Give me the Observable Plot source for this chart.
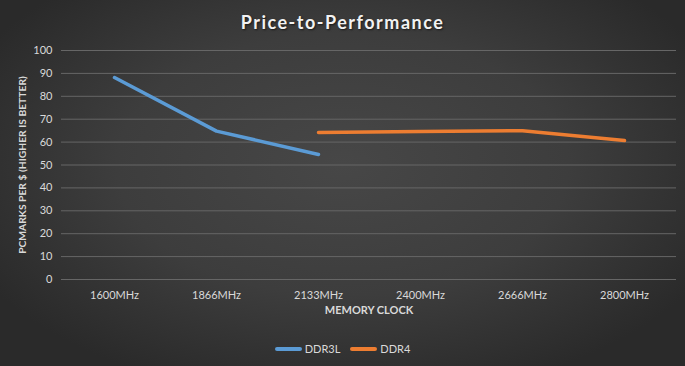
<!DOCTYPE html>
<html>
<head>
<meta charset="utf-8">
<script src="https://cdn.jsdelivr.net/npm/d3@7"></script>
<script src="https://cdn.jsdelivr.net/npm/@observablehq/plot@0.6"></script>
<style>
  html, body { margin: 0; padding: 0; }
  body {
    width: 685px; height: 366px; overflow: hidden;
    background: radial-gradient(ellipse 60% 65% at 50% 45%, #474747 0%, #3d3d3d 55%, #2a2a2a 100%);
    font-family: Lato, "Open Sans", sans-serif;
  }
  #title {
    height: 40px; line-height: 45px; text-align: center;
    color: #f2f2f2; font-size: 18px; font-weight: bold; letter-spacing: 1.5px;
    text-shadow: 1px 1px 2px rgba(0,0,0,0.6);
  }
  #chart svg { display: block; background: transparent; overflow: visible; }
  #legend {
    position: absolute; top: 342px; left: 0; width: 685px;
    display: flex; justify-content: center; gap: 10px;
    font-size: 11px; color: #d9d9d9; padding-left: 0px;
  }
  .item { display: flex; align-items: center; gap: 3px; }
  .sw { width: 27px; height: 4px; border-radius: 2px; }
</style>
</head>
<body>
<div id="title">Price-to-Performance</div>
<div id="chart"></div>
<div id="legend"></div>
<script>
const categories = ["1600MHz", "1866MHz", "2133MHz", "2400MHz", "2666MHz", "2800MHz"];
const seriesNames = ["DDR3L", "DDR4"];
const ddr3l = [88.2, 64.8, 54.6, null, null, null];
const ddr4 = [null, null, 64.2, 64.6, 65.0, 60.7];
const colors = ["#5b9bd5", "#ed7d31"];
const yTicks = [0, 10, 20, 30, 40, 50, 60, 70, 80, 90, 100];

const rows = [];
[ddr3l, ddr4].forEach((vals, i) => {
  vals.forEach((v, j) => { if (v != null) rows.push({series: seriesNames[i], clock: categories[j], value: v}); });
});

const plot = Plot.plot({
  width: 685,
  height: 289,
  marginLeft: 61,
  marginRight: 9,
  marginTop: 10,
  marginBottom: 50,
  style: {background: "transparent", color: "#d9d9d9", fontSize: "11px", fontFamily: "Lato, 'Open Sans', sans-serif", overflow: "visible"},
  x: {type: "point", domain: categories, padding: 0.5, label: null},
  y: {domain: [0, 100], label: null},
  color: {domain: seriesNames, range: colors},
  marks: [
    Plot.gridY(yTicks, {stroke: "#666666", strokeOpacity: 1, strokeWidth: 1}),
    Plot.axisY(yTicks, {tickSize: 0, tickPadding: 9, label: null, fill: "#d9d9d9"}),
    Plot.axisX(categories, {tickSize: 0, tickPadding: 12, label: null, fill: "#d9d9d9"}),
    Plot.text(["MEMORY CLOCK"], {frameAnchor: "bottom", dy: 34, fontWeight: "bold", fill: "#d9d9d9", fontSize: 11}),
    Plot.text(["PCMARKS PER $ (HIGHER IS BETTER)"], {frameAnchor: "left", textAnchor: "middle", dx: -39, rotate: -90, fontWeight: "bold", fill: "#d9d9d9", fontSize: 10.3}),
    Plot.line(rows, {x: "clock", y: "value", z: "series", stroke: "series", strokeWidth: 3.5, strokeLinecap: "round", strokeLinejoin: "round", curve: "linear"})
  ]
});
document.getElementById("chart").appendChild(plot);

const legend = document.getElementById("legend");
seriesNames.forEach((name, i) => {
  const item = document.createElement("div");
  item.className = "item";
  const sw = document.createElement("div");
  sw.className = "sw";
  sw.style.background = colors[i];
  const label = document.createElement("span");
  label.textContent = name;
  item.appendChild(sw);
  item.appendChild(label);
  legend.appendChild(item);
});
</script>
</body>
</html>
